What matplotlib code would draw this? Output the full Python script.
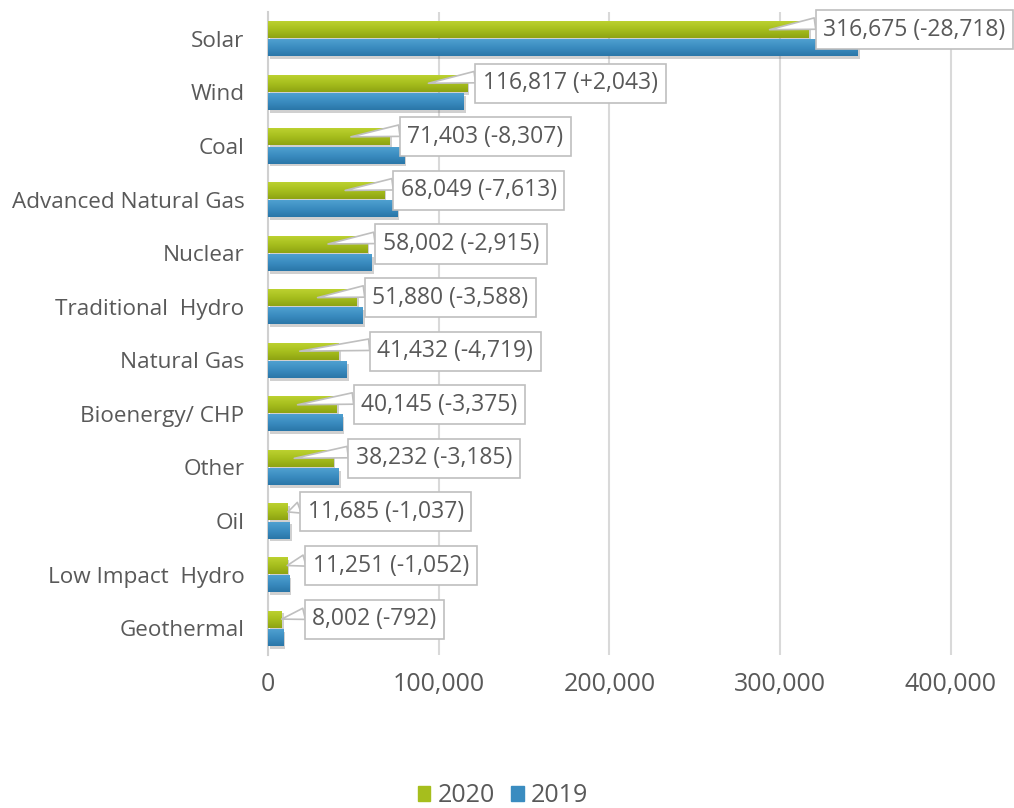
import matplotlib.pyplot as plt
import matplotlib.patheffects as pe
import numpy as np
from matplotlib.colors import LinearSegmentedColormap
from matplotlib.patches import Patch
from matplotlib.ticker import FuncFormatter

plt.rcParams['font.family'] = ['Open Sans', 'DejaVu Sans']

categories = ['Solar', 'Wind', 'Coal', 'Advanced Natural Gas', 'Nuclear',
              'Traditional  Hydro', 'Natural Gas', 'Bioenergy/ CHP', 'Other',
              'Oil', 'Low Impact  Hydro', 'Geothermal']
values_2020 = [316675, 116817, 71403, 68049, 58002, 51880, 41432, 40145,
               38232, 11685, 11251, 8002]
change = [-28718, 2043, -8307, -7613, -2915, -3588, -4719, -3375, -3185,
          -1037, -1052, -792]
values_2019 = [v - c for v, c in zip(values_2020, change)]

# gap (pixels) between the end of the 2020 bar and the left edge of its label box
label_gap_px = [7, 8, 10, 9, 8, 8, 31, 17, 15, 12, 18, 23]

TEXT = '#595959'
GRID = '#d9d9d9'
green_cmap = LinearSegmentedColormap.from_list('g', ['#bcd130', '#a6be1d', '#8ea312'])
blue_cmap = LinearSegmentedColormap.from_list('b', ['#4fa0d0', '#3a8cc0', '#2a76a8'])

fig = plt.figure(figsize=(10.14, 8.08), dpi=100)
ax = fig.add_axes([268 / 1014, 1 - 655 / 808, 1 - 268 / 1014, (655 - 12) / 808])

y = np.arange(len(categories))
h = 0.317
off = 0.17
px = 1 / 0.001707          # data units per pixel along x
xmax = (1014 - 268) * px

shadow = [pe.SimplePatchShadow(offset=(1.5, -2), shadow_rgbFace='#666666', alpha=0.3),
          pe.Normal()]
grad = np.linspace(0, 1, 64).reshape(-1, 1)


def gradient_bars(ypos, vals, cmap):
    bars = ax.barh(ypos, vals, height=h, color=cmap(0.5), zorder=3)
    for b in bars:
        b.set_path_effects(shadow)
        x0, y0 = b.get_x(), b.get_y()
        im = ax.imshow(grad, cmap=cmap, aspect='auto', zorder=3.1,
                       extent=(x0, x0 + b.get_width(), y0 + b.get_height(), y0),
                       interpolation='bilinear')
        im.set_clip_path(b)
    return bars


gradient_bars(y - off, values_2020, green_cmap)
gradient_bars(y + off, values_2019, blue_cmap)
ax.set_xlim(0, xmax)
ax.set_ylim(len(categories) - 0.5, -0.5)

ax.set_xticks([0, 100000, 200000, 300000, 400000])
ax.xaxis.set_major_formatter(FuncFormatter(lambda v, p: f'{int(v):,}'))
ax.set_yticks(y)
ax.set_yticklabels(categories)
ax.tick_params(axis='x', length=0, pad=12, labelsize=18, labelcolor=TEXT)
ax.tick_params(axis='y', length=0, pad=17, labelsize=16.2, labelcolor=TEXT)
ax.grid(axis='x', color=GRID, lw=1.5, zorder=0)
ax.set_axisbelow(True)
for s in ['top', 'right', 'bottom']:
    ax.spines[s].set_visible(False)
ax.spines['left'].set_color('#d0d0d0')
ax.spines['left'].set_linewidth(1.5)

label_size = 16.5
box_pad = 0.33
pad_px = box_pad * label_size * 100 / 72
for i, (v, c) in enumerate(zip(values_2020, change)):
    tip = v - 39 * px if v > 30000 else v
    lx = v + (label_gap_px[i] + pad_px) * px
    txt = f'{v:,} ({c:+,})' if c > 0 else f'{v:,} ({c:,})'
    ax.annotate(txt, xy=(tip, i - off), xytext=(lx, i - off),
                ha='left', va='center', fontsize=label_size, color=TEXT, zorder=6,
                bbox=dict(boxstyle=f'square,pad={box_pad}', fc='white', ec='#bfbfbf', lw=1.2),
                arrowprops=dict(arrowstyle='wedge,tail_width=0.5', fc='white',
                                ec='#bfbfbf', lw=1.2, relpos=(0, 0.8),
                                shrinkA=0, shrinkB=0))

handles = [Patch(color='#a6be1d', label='2020'), Patch(color='#3a8cc0', label='2019')]
fig.legend(handles=handles, loc='center', bbox_to_anchor=(0.496, 0.015), ncol=2,
           frameon=False, fontsize=18, labelcolor=TEXT, handlelength=0.5,
           handleheight=0.5, handletextpad=0.3, columnspacing=0.65)

fig.savefig('out.png', dpi=100)
